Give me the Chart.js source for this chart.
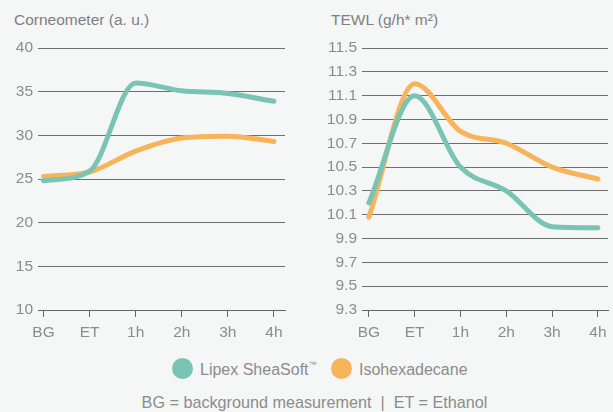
<!DOCTYPE html>
<html>
<head>
<meta charset="utf-8">
<script src="https://cdn.jsdelivr.net/npm/chart.js@4"></script>
<style>
	body { margin: 0; background: #f4f7f6; font-family: 'Liberation Sans', Arial, sans-serif; }
	#wrap { position: relative; width: 613px; height: 412px; overflow: hidden; }
	.title { position: absolute; top: 11px; font-size: 15.5px; color: #808080; }
	.box { position: absolute; top: 0; height: 345px; }
	.item { position: absolute; top: 358px; font-size: 16px; color: #8c8c8c; white-space: nowrap; }
	.item span.dot { display: inline-block; width: 21px; height: 21px; border-radius: 50%; vertical-align: -4px; margin-right: 7px; }
	.item sup { font-size: 8px; vertical-align: 8px; line-height: 0; }
	#foot { position: absolute; top: 393px; left: 8px; width: 613px; text-align: center; font-size: 16.2px; color: #8c8c8c; white-space: pre; }
</style>
</head>
<body>
<div id="wrap">
	<div class="title" style="left:14px">Corneometer (a. u.)</div>
	<div class="title" style="left:331px">TEWL (g/h* m²)</div>
	<div class="box" style="left:0;width:300px"><canvas id="corneoChart"></canvas></div>
	<div class="box" style="left:310px;width:303px"><canvas id="tewlChart"></canvas></div>
	<div class="item" style="left:172px"><span class="dot" style="background:#79c4b4"></span>Lipex SheaSoft<sup>™</sup></div>
	<div class="item" style="left:331px"><span class="dot" style="background:#f7b45a"></span>Isohexadecane</div>
	<div id="foot">BG = background measurement  |  ET = Ethanol</div>
</div>
<script>
const timeLabels = ['BG', 'ET', '1h', '2h', '3h', '4h'];

const corneoSheaSoft = [24.8, 25.9, 36.0, 35.1, 34.8, 33.9];
const corneoIsohexadecane = [25.3, 25.8, 28.2, 29.7, 29.9, 29.3];

const tewlSheaSoft = [10.2, 11.1, 10.5, 10.3, 10.0, 9.99];
const tewlIsohexadecane = [10.08, 11.2, 10.8, 10.7, 10.5, 10.4];

const teal = '#79c4b4';
const orange = '#f7b45a';

function toPoints(values) {
	return values.map((v, i) => ({x: i, y: v}));
}

function makeChart(el, seriesA, seriesB, yOpts, xMin, xMax, axisWidth, padRight) {
	return new Chart(el, {
		type: 'line',
		data: {
			datasets: [
				{label: 'Lipex SheaSoft™', data: toPoints(seriesA), borderColor: teal},
				{label: 'Isohexadecane', data: toPoints(seriesB), borderColor: orange}
			]
		},
		options: {
			responsive: true,
			maintainAspectRatio: false,
			animation: false,
			layout: {padding: {top: 48, right: padRight, bottom: 0, left: 0}},
			elements: {
				point: {radius: 0},
				line: {borderWidth: 5, cubicInterpolationMode: 'monotone', borderCapStyle: 'round', fill: false}
			},
			plugins: {
				legend: {display: false},
				tooltip: {enabled: false}
			},
			scales: {
				x: {
					type: 'linear',
					min: xMin,
					max: xMax,
					afterBuildTicks: s => { s.ticks = timeLabels.map((_, i) => ({value: i})); },
					afterFit: s => { s.height = 35; },
					ticks: {
						callback: v => timeLabels[v],
						color: '#8c8c8c',
						font: {family: "'Liberation Sans', Arial, sans-serif", size: 15.5},
						padding: 6,
						maxRotation: 0,
						autoSkip: false
					},
					grid: {drawOnChartArea: false, drawTicks: true, tickLength: 7, color: '#666', lineWidth: 1},
					border: {display: true, color: '#666', width: 1}
				},
				y: {
					min: yOpts.min,
					max: yOpts.max,
					afterBuildTicks: s => { s.ticks = yOpts.ticks.map(v => ({value: v})); },
					afterFit: s => { s.width = axisWidth; },
					ticks: {
						callback: v => yOpts.fmt(v),
						color: '#8c8c8c',
						font: {family: "'Liberation Sans', Arial, sans-serif", size: 15.5},
						padding: 5
					},
					grid: {drawTicks: false, color: '#6f6f6f', lineWidth: 1},
					border: {display: false}
				}
			}
		}
	});
}

const corneoTicks = [10, 15, 20, 25, 30, 35, 40];
const tewlTicks = [9.3, 9.5, 9.7, 9.9, 10.1, 10.3, 10.5, 10.7, 10.9, 11.1, 11.3, 11.5];

makeChart(document.getElementById('corneoChart'), corneoSheaSoft, corneoIsohexadecane,
	{min: 10, max: 40, ticks: corneoTicks, fmt: v => String(v)}, -0.12, 5.24, 38, 15);

makeChart(document.getElementById('tewlChart'), tewlSheaSoft, tewlIsohexadecane,
	{min: 9.3, max: 11.5, ticks: tewlTicks, fmt: v => v.toFixed(1)}, -0.15, 5.22, 52, 5);
</script>
</body>
</html>
